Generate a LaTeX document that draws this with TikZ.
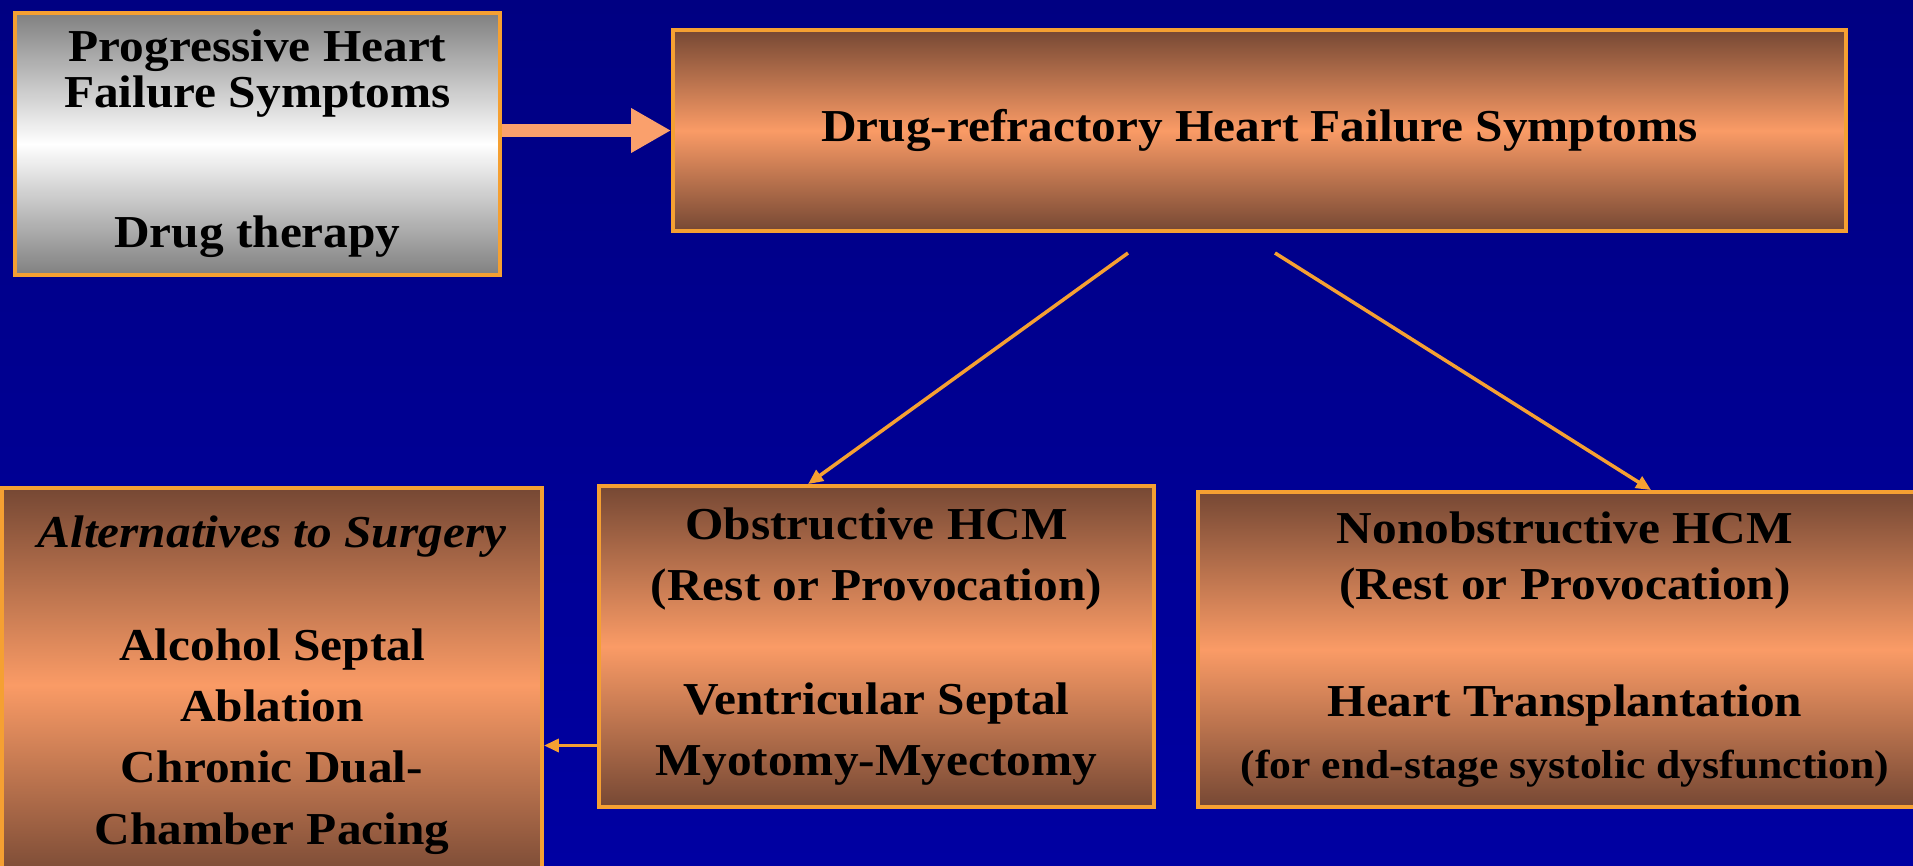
\documentclass[tikz,border=0pt]{standalone}
\usepackage{fontspec}
\setmainfont{Liberation Serif}[FakeStretch=1.08]
\usetikzlibrary{arrows.meta}
\definecolor{slideblue}{RGB}{0,0,162}
\definecolor{slidetop}{RGB}{0,0,130}
\definecolor{boxrim}{RGB}{245,160,50}
\definecolor{copperdark}{RGB}{118,72,52}
\definecolor{copperlight}{RGB}{250,155,102}
\definecolor{silverdark}{RGB}{128,128,128}
\definecolor{salmon}{RGB}{250,160,108}
\tikzset{
  copperbox/.style={draw=boxrim, line width=1.1pt, top color=copperdark,
    bottom color=copperdark, middle color=copperlight, align=center,
    inner sep=0pt, font=\bfseries\fontsize{13}{17.4}\selectfont},
  silverbox/.style={draw=boxrim, line width=1.1pt, top color=silverdark,
    bottom color=silverdark, middle color=white, align=center,
    inner sep=0pt, font=\bfseries\fontsize{13}{13.1}\selectfont},
  fatarrow/.style={draw=salmon, line width=3.7pt,
    -{Triangle[length=4mm,width=4.2mm]}},
  thinarrow/.style={draw=boxrim, line width=1pt,
    -{Triangle[length=1.5mm,width=1.3mm]}}
}
\begin{document}
\begin{tikzpicture}
    \clip (0,0) rectangle (19.13,-8.66);
    \fill[top color=slidetop, bottom color=slideblue] (0,0) rectangle (19.13,-8.66);

    \node[silverbox, minimum width=4.85cm, minimum height=2.62cm] (HfProg) at (2.575,-1.44)
      {Progressive Heart\\Failure Symptoms\\[9.4mm]Drug therapy};
    \node[copperbox, minimum width=11.73cm, minimum height=2.01cm] (HfDrug) at (12.595,-1.305)
      {Drug-refractory Heart Failure Symptoms};

    \node[copperbox, minimum width=5.40cm, minimum height=3.94cm] (HcmAlt) at (2.72,-6.85)
      {\textit{Alternatives to Surgery}\\[5.2mm]Alcohol Septal\\Ablation\\Chronic Dual-\\Chamber Pacing};
    \node[copperbox, minimum width=5.55cm, minimum height=3.21cm] (HcmObs) at (8.765,-6.465)
      {Obstructive HCM\\(Rest or Provocation)\\[5.3mm]Ventricular Septal\\Myotomy-Myectomy};
    \node[copperbox, minimum width=7.34cm, minimum height=3.15cm] (HcmNon) at (15.65,-6.495)
      {Nonobstructive HCM\\[-0.5mm](Rest or Provocation)\\[5.6mm]Heart Transplantation\\
       {\fontsize{11.5}{13}\selectfont(for end-stage systolic dysfunction)}};

    \coordinate (SplitL) at (11.28,-2.53);
    \coordinate (SplitR) at (12.75,-2.53);

    \draw[fatarrow] (HfProg.east |- HfDrug.west) to (HfDrug.west);
    \draw[thinarrow] (SplitL) to ([xshift=2.11cm]HcmObs.north west);
    \draw[thinarrow] (SplitR) to ([xshift=4.55cm]HcmNon.north west);
    \draw[thinarrow] ([yshift=-0.99cm]HcmObs.west) to ([yshift=-0.99cm]HcmObs.west -| HcmAlt.east);
  \end{tikzpicture}
\end{document}
